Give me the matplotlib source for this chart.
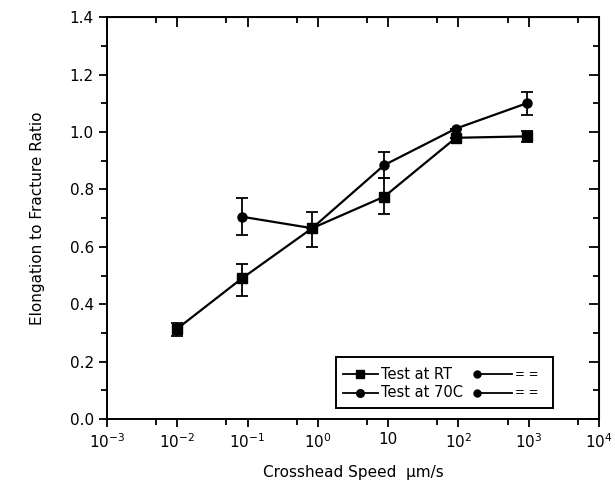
import matplotlib
matplotlib.use("Agg")
import matplotlib.pyplot as plt
import numpy as np
from matplotlib.patches import Rectangle
from matplotlib.ticker import FixedLocator, NullFormatter

# crosshead speed (um/s)
speed_rt = [0.01, 0.083, 0.83, 8.8, 92, 930]
ratio_rt = [0.315, 0.49, 0.665, 0.775, 0.98, 0.985]
err_lo_rt = [0.025, 0.06, 0.065, 0.06, 0.0, 0.02]
err_hi_rt = [0.02, 0.05, 0.055, 0.065, 0.0, 0.02]

speed_70 = [0.083, 0.83, 8.8, 92, 930]
ratio_70 = [0.705, 0.665, 0.885, 1.012, 1.10]
err_lo_70 = [0.065, 0.0, 0.045, 0.0, 0.04]
err_hi_70 = [0.065, 0.0, 0.045, 0.0, 0.04]

series_labels = ["Test at RT", "Test at 70C"]

xticks = [1e-3, 1e-2, 1e-1, 1e0, 1e1, 1e2, 1e3, 1e4]
xticklabels = [r"$10^{-3}$", r"$10^{-2}$", r"$10^{-1}$", r"$10^{0}$", "10",
               r"$10^{2}$", r"$10^{3}$", r"$10^{4}$"]
yticks = [0.0, 0.2, 0.4, 0.6, 0.8, 1.0, 1.2, 1.4]
yticklabels = ["0.0", "0.2", "0.4", "0.6", "0.8", "1.0", "1.2", "1.4"]

fig = plt.figure(figsize=(6.15, 4.93), dpi=100)
ax = fig.add_axes([0.174, 0.150, 0.800, 0.815])

ax.errorbar(speed_rt, ratio_rt, yerr=[err_lo_rt, err_hi_rt], color="black",
            marker="s", markersize=7, linewidth=1.6, capsize=4, elinewidth=1.3,
            capthick=1.3)
ax.errorbar(speed_70, ratio_70, yerr=[err_lo_70, err_hi_70], color="black",
            marker="o", markersize=6.5, linewidth=1.6, capsize=4, elinewidth=1.3,
            capthick=1.3)

ax.set_xscale("log")
ax.set_xlim(1e-3, 1e4)
ax.set_ylim(0.0, 1.4)
minor_x = [5 * t for t in xticks[:-1]]
minor_y = np.arange(0.1, 1.4, 0.2)
ax.xaxis.set_major_locator(FixedLocator(xticks))
ax.set_xticklabels(xticklabels, fontsize=11)
ax.xaxis.set_minor_locator(FixedLocator(minor_x))
ax.xaxis.set_minor_formatter(NullFormatter())
ax.set_yticks(yticks)
ax.set_yticklabels(yticklabels, fontsize=11)
ax.set_yticks(minor_y, minor=True)
ax.tick_params(which="both", direction="out", width=1.3)
ax.tick_params(which="major", length=6)
ax.tick_params(which="minor", length=4)
for s in ax.spines.values():
    s.set_linewidth(1.4)

# top and right ticks point inward
top = ax.secondary_xaxis("top")
top.xaxis.set_major_locator(FixedLocator(xticks))
top.xaxis.set_minor_locator(FixedLocator(minor_x))
top.xaxis.set_major_formatter(NullFormatter())
top.xaxis.set_minor_formatter(NullFormatter())
top.tick_params(which="both", direction="in", width=1.3)
top.tick_params(which="major", length=7)
top.tick_params(which="minor", length=4)
right = ax.secondary_yaxis("right")
right.set_yticks(yticks)
right.set_yticks(minor_y, minor=True)
right.yaxis.set_major_formatter(NullFormatter())
right.tick_params(which="both", direction="in", width=1.3)
right.tick_params(which="major", length=7)
right.tick_params(which="minor", length=4)

ax.set_xlabel("Crosshead Speed  \u03bcm/s", fontsize=11, labelpad=10)
ax.set_ylabel("Elongation to Fracture Ratio", fontsize=11, labelpad=18)

# legend box drawn by hand, as in the original figure
ax.add_patch(Rectangle((0.465, 0.027), 0.442, 0.127, transform=ax.transAxes,
                       fill=False, edgecolor="black", linewidth=1.4))
for yy, mk, lab in zip((0.112, 0.065), ("s", "o"), series_labels):
    ax.plot([0.48, 0.55], [yy, yy], transform=ax.transAxes, color="black",
            linewidth=1.3)
    ax.plot([0.515], [yy], transform=ax.transAxes, color="black",
            marker=mk, markersize=5.5)
    ax.text(0.556, yy, lab, transform=ax.transAxes, va="center", fontsize=10.5)
    ax.plot([0.752, 0.823], [yy, yy], transform=ax.transAxes, color="black",
            linewidth=1.3, marker="o", markersize=5, markevery=[0])
    ax.text(0.83, yy, "= =", transform=ax.transAxes, va="center", fontsize=8.5)

fig.savefig("out.png", dpi=100)
